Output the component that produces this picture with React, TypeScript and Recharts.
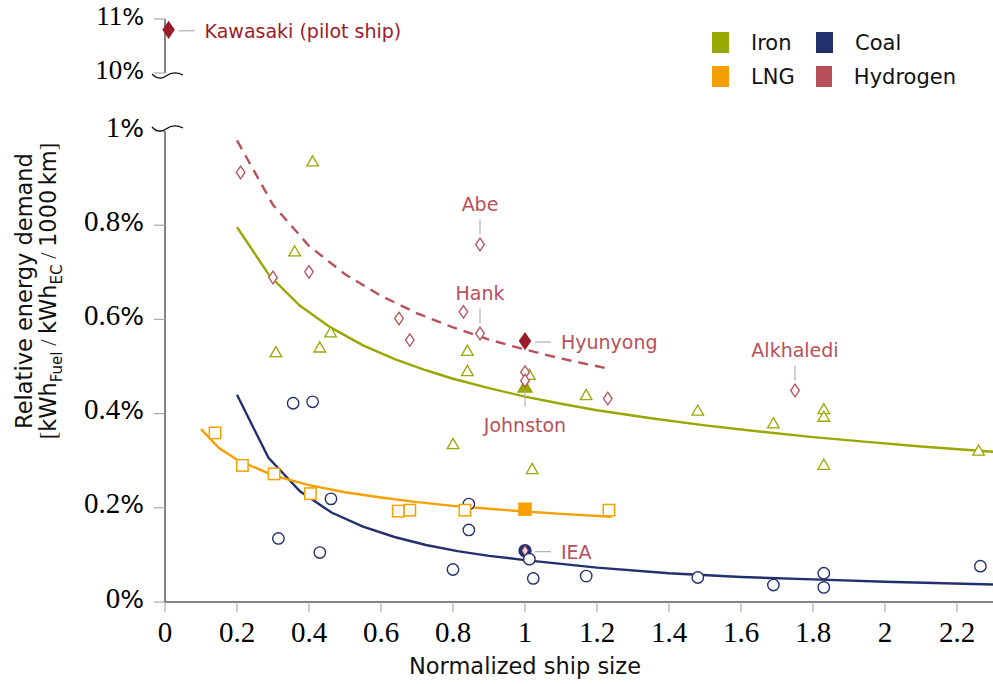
import React from 'react';
import {
  ComposedChart,
  ScatterChart,
  Scatter,
  Line,
  XAxis,
  YAxis,
  ReferenceDot,
} from 'recharts';

const SANS = '"DejaVu Sans", Verdana, sans-serif';
const SERIF = '"Liberation Serif", "Times New Roman", serif';

const IRON = '#99a800';
const COAL = '#23306e';
const LNG = '#f5a000';
const HYDROGEN = '#b8505a';
const KAWASAKI = '#9c1c2a';
const AXIS = '#5a5a5a';
const TICK = '#a8a8a8';
const LEADER = '#b0b0b0';

const X_TICKS = [0, 0.2, 0.4, 0.6, 0.8, 1, 1.2, 1.4, 1.6, 1.8, 2, 2.2];
const Y_TICKS = [0, 0.2, 0.4, 0.6, 0.8, 1];
const Y_TICKS_TOP = [10, 11];

// [normalized ship size, relative energy demand in %]
const ironPoints = [
  [0.41, 0.935], [0.36, 0.744], [0.46, 0.572], [0.308, 0.53], [0.43, 0.54],
  [0.84, 0.533], [0.84, 0.49], [1.012, 0.482], [1.17, 0.439], [0.8, 0.335],
  [1.02, 0.282], [1.48, 0.406], [1.69, 0.379], [1.83, 0.409], [1.83, 0.393],
  [1.83, 0.291], [2.26, 0.321],
];
const ironHighlight = [[1.0, 0.457]];

const coalPoints = [
  [0.356, 0.422], [0.41, 0.425], [0.461, 0.219], [0.315, 0.135], [0.43, 0.105],
  [0.844, 0.208], [0.844, 0.153], [0.8, 0.069], [1.012, 0.091], [1.023, 0.05],
  [1.17, 0.055], [1.48, 0.052], [1.69, 0.036], [1.83, 0.061], [1.83, 0.031],
  [2.265, 0.076],
];
const coalHighlight = [[1.0, 0.109]];

const lngPoints = [
  [0.139, 0.359], [0.215, 0.29], [0.303, 0.272], [0.404, 0.23], [0.648, 0.193],
  [0.68, 0.195], [0.833, 0.195], [1.233, 0.195],
];
const lngHighlight = [[1.0, 0.197]];

const hydrogenPoints = [
  [0.21, 0.912], [0.3, 0.689], [0.4, 0.701], [0.65, 0.602], [0.68, 0.556],
  [0.829, 0.616], [0.875, 0.759], [0.875, 0.57], [1.0, 0.488], [1.0, 0.47],
  [1.23, 0.432], [1.75, 0.449],
];
const hydrogenHighlight = [[1.0, 0.554]];

const kawasakiPoint = [[0.01, 10.8]];

// fitted trend lines
const ironFitX = [0.2, 0.29, 0.375, 0.46, 0.55, 0.64, 0.725, 0.8, 0.9, 1.0, 1.1, 1.2, 1.35, 1.5, 1.65, 1.8, 1.95, 2.1, 2.3];
const ironFitY = [0.796, 0.693, 0.629, 0.583, 0.545, 0.515, 0.492, 0.474, 0.454, 0.436, 0.421, 0.407, 0.39, 0.375, 0.362, 0.35, 0.34, 0.33, 0.319];

const coalFitX = [0.2, 0.2875, 0.375, 0.4625, 0.55, 0.6375, 0.725, 0.8125, 0.9, 1.0, 1.2, 1.4, 1.6, 1.8, 2.0, 2.3];
const coalFitY = [0.44, 0.306, 0.235, 0.19, 0.16, 0.138, 0.121, 0.108, 0.098, 0.089, 0.073, 0.061, 0.053, 0.048, 0.043, 0.037];

const lngFitX = [0.1, 0.15, 0.2, 0.3, 0.4, 0.5, 0.6, 0.7, 0.8, 0.9, 1.0, 1.1, 1.24];
const lngFitY = [0.367, 0.327, 0.302, 0.269, 0.248, 0.233, 0.222, 0.212, 0.204, 0.198, 0.192, 0.187, 0.181];

const hydrogenFitX = [0.2, 0.3, 0.4, 0.5, 0.6, 0.7, 0.8, 0.9, 1.0, 1.1, 1.24];
const hydrogenFitY = [0.98, 0.843, 0.756, 0.696, 0.65, 0.613, 0.583, 0.557, 0.536, 0.517, 0.494];

const CALLOUTS = [
  { text: 'Abe', x: 0.875, y: 0.759, side: 'above' },
  { text: 'Hank', x: 0.875, y: 0.57, side: 'above' },
  { text: 'Alkhaledi', x: 1.75, y: 0.449, side: 'above' },
  { text: 'Hyunyong', x: 1.0, y: 0.554, side: 'right' },
  { text: 'IEA', x: 1.0, y: 0.109, side: 'right' },
  { text: 'Johnston', x: 1.0, y: 0.457, side: 'below' },
];

const LEGEND = [
  { name: 'Iron', color: IRON },
  { name: 'Coal', color: COAL },
  { name: 'LNG', color: LNG },
  { name: 'Hydrogen', color: HYDROGEN },
];

const pts = (arr: number[][]) => arr.map(([x, y]) => ({ x, y }));
const fit = (xs: number[], ys: number[]) => xs.map((x, i) => ({ x, y: ys[i] }));

// ---- marker shapes ----
const triangle = (filled: boolean) => (p: any) => {
  const { cx, cy } = p;
  const s = filled ? 7 : 5.8;
  return (
    <polygon
      points={`${cx},${cy - s} ${cx + s},${cy + s * 0.75} ${cx - s},${cy + s * 0.75}`}
      fill={filled ? IRON : '#fff'}
      stroke={IRON}
      strokeWidth={1.3}
    />
  );
};

const diamond = (filled: boolean, color: string) => (p: any) => {
  const { cx, cy } = p;
  const w = filled ? 5.5 : 4.3;
  const h = filled ? 8 : 6.3;
  return (
    <polygon
      points={`${cx},${cy - h} ${cx + w},${cy} ${cx},${cy + h} ${cx - w},${cy}`}
      fill={filled ? color : '#fff'}
      stroke={color}
      strokeWidth={1.3}
    />
  );
};

const circle = (p: any) => (
  <circle cx={p.cx} cy={p.cy} r={5.7} fill="#fff" stroke={COAL} strokeWidth={1.4} />
);

const ieaMarker = (p: any) => (
  <g>
    <circle cx={p.cx} cy={p.cy} r={6} fill={COAL} stroke={COAL} strokeWidth={1.4} />
    <polygon
      points={`${p.cx},${p.cy - 5} ${p.cx + 3},${p.cy} ${p.cx},${p.cy + 5} ${p.cx - 3},${p.cy}`}
      fill="#f1d6da"
      stroke={HYDROGEN}
      strokeWidth={1}
    />
  </g>
);

const square = (filled: boolean) => (p: any) => {
  const s = filled ? 6 : 5.7;
  return (
    <rect
      x={p.cx - s}
      y={p.cy - s}
      width={s * 2}
      height={s * 2}
      fill={filled ? LNG : '#fff'}
      stroke={LNG}
      strokeWidth={1.5}
    />
  );
};

// ---- callouts ----
function Callout({ cx, cy, text, side, color }: any) {
  const common = { fontFamily: SANS, fontSize: 19, fill: color };
  if (side === 'above') {
    return (
      <g>
        <line x1={cx} x2={cx} y1={cy - 25} y2={cy - 10} stroke={LEADER} strokeWidth={1.2} />
        <text x={cx} y={cy - 34} textAnchor="middle" {...common}>{text}</text>
      </g>
    );
  }
  if (side === 'below') {
    return (
      <g>
        <line x1={cx} x2={cx} y1={cy + 3} y2={cy + 20} stroke={LEADER} strokeWidth={1.2} />
        <text x={cx} y={cy + 45} textAnchor="middle" {...common}>{text}</text>
      </g>
    );
  }
  return (
    <g>
      <line x1={cx + 10} x2={cx + 26} y1={cy + 1} y2={cy + 1} stroke={LEADER} strokeWidth={1.2} />
      <text x={cx + 36} y={cy + 8} {...common}>{text}</text>
    </g>
  );
}

// ---- ticks ----
const XTick = (props: any) => {
  const { x, y, payload } = props;
  return (
    <text x={x} y={y} dy="0.71em" textAnchor="middle" fontFamily={SERIF} fontSize={29} fill="#000">
      {String(payload.value)}
    </text>
  );
};

const makeYTick = (breakAt: number, waveShift: number, size: number) => (props: any) => {
  const { x, y, payload } = props;
  const ax = x + 21;
  const wy = y + waveShift;
  return (
    <g>
      <text x={x} y={y} dy="0.35em" textAnchor="end" fill="#000">
        <tspan fontFamily={SERIF} fontSize={size}>{String(payload.value)}</tspan>
        <tspan fontFamily={SANS} fontSize={size - 4}>%</tspan>
      </text>
      {payload.value === breakAt && (
        <path
          d={`M${ax - 13},${wy - 4} C${ax - 8},${wy + 1} ${ax - 3},${wy + 1} ${ax + 1},${wy - 2} S${ax + 10},${wy - 7} ${ax + 18},${wy - 3}`}
          fill="none"
          stroke="#111"
          strokeWidth={1.3}
        />
      )}
    </g>
  );
};

export default function App() {
  return (
    <div style={{ position: 'absolute', left: 0, top: 0, width: 993, height: 684, background: '#fff' }}>
      <div style={{ position: 'absolute', left: 0, top: 0 }}>
        <ComposedChart width={993} height={684} margin={{ top: 131, right: 0, bottom: 32, left: 105 }}>
          <XAxis
            type="number"
            dataKey="x"
            domain={[0, 2.3]}
            ticks={X_TICKS}
            height={50}
            tickSize={10}
            tickMargin={9}
            tick={XTick}
            axisLine={{ stroke: AXIS, strokeWidth: 1.5 }}
            tickLine={{ stroke: TICK, strokeWidth: 1.2 }}
            allowDataOverflow
          />
          <YAxis
            type="number"
            dataKey="y"
            domain={[0, 1]}
            ticks={Y_TICKS}
            width={60}
            tickSize={11}
            tickMargin={10}
            tick={makeYTick(1, 0, 29)}
            axisLine={{ stroke: AXIS, strokeWidth: 1.5 }}
            tickLine={{ stroke: TICK, strokeWidth: 1.2 }}
            allowDataOverflow
          />
          <Line data={fit(coalFitX, coalFitY)} dataKey="y" type="linear" stroke={COAL} strokeWidth={2.4} dot={false} isAnimationActive={false} />
          <Line data={fit(lngFitX, lngFitY)} dataKey="y" type="linear" stroke={LNG} strokeWidth={2.4} dot={false} isAnimationActive={false} />
          <Line data={fit(ironFitX, ironFitY)} dataKey="y" type="linear" stroke={IRON} strokeWidth={2.4} dot={false} isAnimationActive={false} />
          <Line data={fit(hydrogenFitX, hydrogenFitY)} dataKey="y" type="linear" stroke={HYDROGEN} strokeWidth={2.4} strokeDasharray="10 7" dot={false} isAnimationActive={false} />

          <Scatter data={pts(coalHighlight)} dataKey="y" shape={ieaMarker} isAnimationActive={false} />
          <Scatter data={pts(lngHighlight)} dataKey="y" shape={square(true)} isAnimationActive={false} />
          <Scatter data={pts(ironHighlight)} dataKey="y" shape={triangle(true)} isAnimationActive={false} />
          <Scatter data={pts(hydrogenHighlight)} dataKey="y" shape={diamond(true, KAWASAKI)} isAnimationActive={false} />

          <Scatter data={pts(coalPoints)} dataKey="y" shape={circle} isAnimationActive={false} />
          <Scatter data={pts(lngPoints)} dataKey="y" shape={square(false)} isAnimationActive={false} />
          <Scatter data={pts(ironPoints)} dataKey="y" shape={triangle(false)} isAnimationActive={false} />
          <Scatter data={pts(hydrogenPoints)} dataKey="y" shape={diamond(false, HYDROGEN)} isAnimationActive={false} />

          {CALLOUTS.map((c) => (
            <ReferenceDot
              key={c.text}
              x={c.x}
              y={c.y}
              r={0}
              ifOverflow="visible"
              shape={(p: any) => <Callout cx={p.cx} cy={p.cy} text={c.text} side={c.side} color={HYDROGEN} />}
            />
          ))}
        </ComposedChart>
      </div>

      <div style={{ position: 'absolute', left: 0, top: 0 }}>
        <ScatterChart width={993} height={100} margin={{ top: 19, right: 0, bottom: 27, left: 105 }}>
          <XAxis type="number" dataKey="x" domain={[0, 2.3]} hide />
          <YAxis
            type="number"
            dataKey="y"
            domain={[10, 11]}
            ticks={Y_TICKS_TOP}
            width={60}
            tickSize={11}
            tickMargin={10}
            tick={makeYTick(10, 5, 27)}
            axisLine={{ stroke: AXIS, strokeWidth: 1.5 }}
            tickLine={{ stroke: TICK, strokeWidth: 1.2 }}
          />
          <Scatter data={pts(kawasakiPoint)} dataKey="y" shape={diamond(true, KAWASAKI)} isAnimationActive={false} />
          <ReferenceDot
            x={kawasakiPoint[0][0]}
            y={kawasakiPoint[0][1]}
            r={0}
            ifOverflow="visible"
            shape={(p: any) => <Callout cx={p.cx} cy={p.cy} text="Kawasaki (pilot ship)" side="right" color={KAWASAKI} />}
          />
        </ScatterChart>
      </div>

      {/* legend */}
      <div style={{ position: 'absolute', left: 712, top: 32, display: 'grid', gridTemplateColumns: '104px 140px', rowGap: 13, fontFamily: SANS, fontSize: 21, color: '#111' }}>
        {LEGEND.map((l) => (
          <div key={l.name} style={{ display: 'flex', alignItems: 'center', height: 21 }}>
            <span style={{ display: 'inline-block', width: 17, height: 21, background: l.color, marginRight: 22 }} />
            <span>{l.name}</span>
          </div>
        ))}
      </div>

      {/* y-axis title */}
      <div
        style={{
          position: 'absolute',
          left: 36 - 200,
          top: 291 - 24,
          width: 400,
          height: 48,
          transform: 'rotate(-90deg)',
          textAlign: 'center',
          fontFamily: SANS,
          fontSize: 22.5,
          lineHeight: '24px',
          color: '#111',
          whiteSpace: 'nowrap',
        }}
      >
        <div>Relative energy demand</div>
        <div>
          <span style={{ fontFamily: SERIF }}>[</span>kWh<sub style={{ fontSize: 15, lineHeight: 0 }}>Fuel</sub>
          <span style={{ fontFamily: SERIF }}> / </span>kWh<sub style={{ fontSize: 15, lineHeight: 0 }}>EC</sub>
          <span style={{ fontFamily: SERIF }}> / </span>1000&thinsp;km<span style={{ fontFamily: SERIF }}>]</span>
        </div>
      </div>

      {/* x-axis title */}
      <div style={{ position: 'absolute', left: 325, top: 653, width: 400, textAlign: 'center', fontFamily: SANS, fontSize: 22.5, lineHeight: '26px', color: '#111' }}>
        Normalized ship size
      </div>
    </div>
  );
}
